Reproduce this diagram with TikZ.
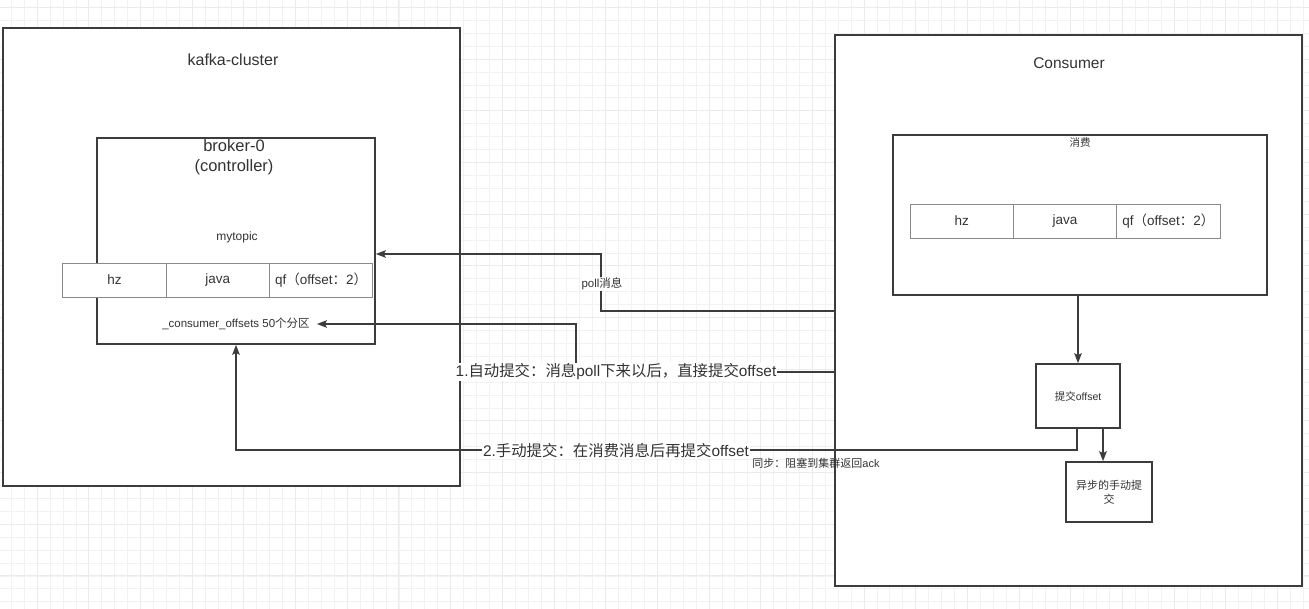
\documentclass[tikz,border=0pt]{standalone}
\usepackage{fontspec}
\setmainfont{Liberation Sans}
\newfontfamily\cjk{Noto Sans CJK SC}
\newcommand{\zh}[1]{{\cjk #1}}
\usepackage{xcolor}
\usetikzlibrary{positioning, arrows.meta, calc}
\definecolor{edge}{HTML}{3C3C3C}
\definecolor{txt}{HTML}{333333}
\definecolor{cellline}{HTML}{8A8A8A}

\begin{document}
\begin{tikzpicture}[
  x=1pt, y=-1pt,
  every node/.style={text=txt},
  box/.style={draw=edge, line width=1.6pt, fill=white, inner sep=0pt},
  cell/.style={draw=cellline, line width=0.8pt, fill=white, minimum width=103.3pt,
               minimum height=34pt, inner sep=0pt, font=\fontsize{13.5}{16}\selectfont},
  lbl/.style={inner sep=0pt, font=\fontsize{16}{19}\selectfont, align=center},
  small/.style={inner sep=0pt, font=\fontsize{11.5}{14}\selectfont, align=center},
  tag/.style={fill=white, inner sep=1pt, font=\fontsize{15.4}{18}\selectfont},
  arr/.style={draw=edge, line width=1.6pt, -{Stealth[length=10pt, width=7.5pt, inset=2pt]}}
]
\useasboundingbox (0,0) rectangle (1309,609);
\fill[white] (0,0) rectangle (1309,609);
\foreach \i in {0,...,101}
  \draw[black!5, line width=0.5pt] (11.16+12.92*\i, 0) -- ++(0,609);
\foreach \i in {0,...,47}
  \draw[black!5, line width=0.5pt] (0, 7.3+12.92*\i) -- ++(1309,0);
\foreach \i in {0,...,25}
  \draw[black!8, line width=0.6pt] (37+51.68*\i, 0) -- ++(0,609);
\foreach \i in {0,...,11}
  \draw[black!8, line width=0.6pt] (0, 7.3+51.68*\i) -- ++(1309,0);

% kafka side
\node[box, minimum width=457pt, minimum height=458pt] (cluster) at (231.5,257) {};
\node[lbl] (clustername) at (233,60) {kafka-cluster};
\node[box, minimum width=278pt, minimum height=206pt] (broker) at (236,241) {};
\node[lbl, font=\fontsize{16.5}{19.5}\selectfont] (brokername) at (234,157) {broker-0\\(controller)};
\node[small, font=\fontsize{12}{14}\selectfont] (mytopic) at (237,237) {mytopic};
\node[cell] (hz) at (114.5,280) {hz};
\node[cell] (java) at (217.8,280) {java};
\node[cell] (qf) at (321.1,280) {qf\zh{（}offset\zh{：}2\zh{）}};
\node[small] (offsets) at (236,324) {\_consumer\_offsets 50\zh{个分区}};

% consumer side
\node[box, minimum width=467pt, minimum height=551pt] (consumer) at (1068.5,310.5) {};
\node[lbl, font=\fontsize{15.5}{19}\selectfont] (consumername) at (1069,63) {Consumer};
\node[box, minimum width=374pt, minimum height=160pt] (consume) at (1080,215) {};
\node[small, font=\fontsize{10.5}{13}\selectfont] (consumename) at (1080,143) {\zh{消费}};
\node[cell] (hz2) at (961.7,221) {hz};
\node[cell] (java2) at (1065,221) {java};
\node[cell] (qf2) at (1168.3,221) {qf\zh{（}offset\zh{：}2\zh{）}};
\node[box, minimum width=84pt, minimum height=64pt, font=\fontsize{10.5}{13}\selectfont] (commit) at (1078,396) {\zh{提交}offset};
\node[box, minimum width=86pt, minimum height=60pt, align=center,
      font=\fontsize{11}{14.5}\selectfont] (async) at (1109,492) {\zh{异步的手动提}\\[-0.5pt]\zh{交}};

% connectors
\coordinate (pollturn) at (601,311);
\coordinate (pollup) at (601,254);
\draw[arr] (consumer.west |- pollturn) -- (pollturn) -- (pollup) -- (broker.east |- pollup);
\node[small, fill=white, inner sep=1pt] (polltag) at (602,284) {poll\zh{消息}};

\coordinate (autoturn) at (576,372);
\draw[arr] (consumer.west |- autoturn) -- (autoturn) -- (autoturn |- offsets) -- ([xshift=7pt]offsets.east);
\node[tag] (autotag) at (616,372) {1.\zh{自动提交：消息}poll\zh{下来以后，直接提交}offset};

\coordinate (manualturn) at (1077,450);
\draw[arr] (commit.south -| manualturn) -- (manualturn) -- (manualturn -| broker.south) -- (broker.south);
\node[tag] (manualtag) at (616,451) {2.\zh{手动提交：在消费消息后再提交}offset};
\node[small, font=\fontsize{11}{13}\selectfont] (synctag) at (816,463) {\zh{同步：阻塞到集群返回}ack};

\draw[arr] (consume.south -| commit.north) -- (commit.north);
\draw[arr] ([xshift=25pt]commit.south) -- ([xshift=25pt]commit.south |- async.north);
\end{tikzpicture}
\end{document}
